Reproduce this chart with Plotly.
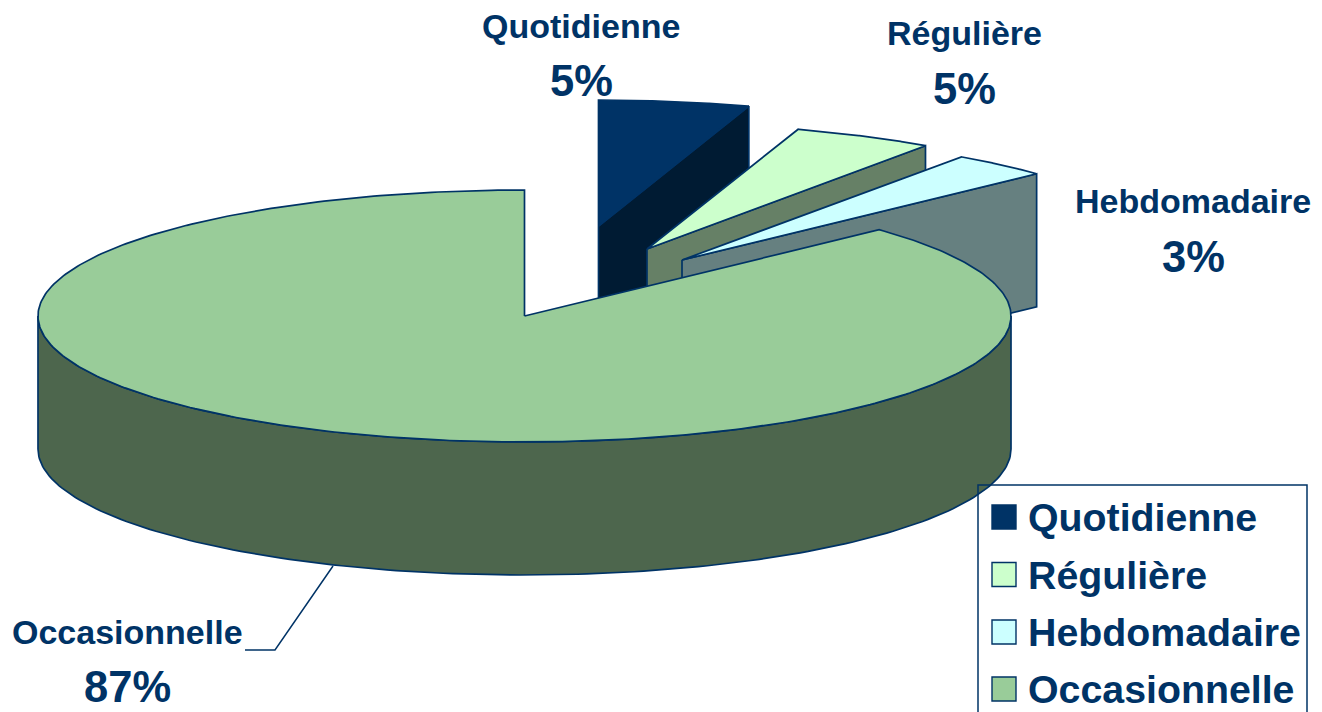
import numpy as np
import plotly.graph_objects as go

categories = ["Quotidienne", "Régulière", "Hebdomadaire", "Occasionnelle"]
values = [5.0, 4.7, 3.3, 87.0]
top_colors = ["#003366", "#CCFFCC", "#CCFFFF", "#99CC99"]
side_colors = ["#001B33", "#668066", "#668080", "#4D664D"]
apex_x = [598.5, 647, 682, 524.5]
apex_y = [226, 249, 260, 316]
label_x = [581, 964.5, 1193, 127]
label_y = [26, 33, 201, 632]
pct_y = [81, 89, 257, 687]

NAVY = "#003366"
RX, RY, DEPTH = 486.5, 126, 133
W, H = 1322, 712

fractions = np.cumsum([0] + values) / sum(values)
FONT = "Liberation Sans, Arial, sans-serif"
fig = go.Figure()


def arc(cx, cy, a0, a1, n=160):
    t = np.radians(np.linspace(a0, a1, n))
    return cx + RX * np.sin(t), cy - RY * np.cos(t)


def poly(x, y, color):
    fig.add_trace(go.Scatter(
        x=list(x) + [x[0]], y=list(y) + [y[0]], mode="lines", fill="toself",
        fillcolor=color, line=dict(color=NAVY, width=1.7), hoverinfo="skip",
        showlegend=False))


# exploded slices, back to front
for i in range(3):
    a0, a1 = fractions[i] * 360, fractions[i + 1] * 360
    cx, cy = apex_x[i], apex_y[i]
    ex, ey = arc(cx, cy, a1, a1, 1)
    poly([cx, ex[0], ex[0], cx], [cy, ey[0], ey[0] + DEPTH, cy + DEPTH], side_colors[i])
    ax, ay = arc(cx, cy, a0, a1)
    poly(np.r_[cx, ax], np.r_[cy, ay], top_colors[i])

# main slice
a0 = fractions[3] * 360
cx, cy = apex_x[3], apex_y[3]
wx, wy = arc(cx, cy, 90, 270)
poly(np.r_[wx, wx[::-1]], np.r_[wy, wy[::-1] + DEPTH], side_colors[3])
ax, ay = arc(cx, cy, a0, 360, 400)
poly(np.r_[cx, ax], np.r_[cy, ay], top_colors[3])

# leader line of the main slice label
fig.add_trace(go.Scatter(x=[333, 275, 245], y=[566, 650, 650], mode="lines",
                         line=dict(color=NAVY, width=1.5), hoverinfo="skip",
                         showlegend=False))

# legend swatches
LEG_Y = [517, 574.5, 632, 689]
fig.add_trace(go.Scatter(
    x=[1004] * 4, y=LEG_Y, mode="markers", hoverinfo="skip", showlegend=False,
    marker=dict(symbol="square", size=24, color=top_colors,
                line=dict(color=NAVY, width=1.4))))

annotations = []
for i, c in enumerate(categories):
    annotations.append(dict(x=label_x[i], y=label_y[i], text=f"<b>{c}</b>", showarrow=False,
                            font=dict(family=FONT, size=34, color=NAVY)))
    annotations.append(dict(x=label_x[i], y=pct_y[i], text=f"<b>{round(values[i])}%</b>", showarrow=False,
                            font=dict(family=FONT, size=43.5, color=NAVY)))
    annotations.append(dict(x=1026, y=LEG_Y[i], text=f"<b>{c}</b>", showarrow=False, xanchor="left",
                            font=dict(family=FONT, size=39.3, color=NAVY)))

axis = dict(visible=False, fixedrange=True, showgrid=False, zeroline=False)
fig.update_layout(
    width=W, height=H, margin=dict(l=0, r=0, t=0, b=0),
    paper_bgcolor="white", plot_bgcolor="white", showlegend=False,
    xaxis=dict(range=[0, W], **axis),
    yaxis=dict(range=[H, 0], **axis),
    annotations=annotations,
    shapes=[dict(type="rect", xref="x", yref="y", x0=978, x1=1307, y0=485, y1=730,
                 line=dict(color=NAVY, width=1.5), layer="above")],
)
fig.write_html("out.html", config=dict(displayModeBar=False),
               post_script="document.body.style.margin='0';document.documentElement.style.overflow='hidden';")
